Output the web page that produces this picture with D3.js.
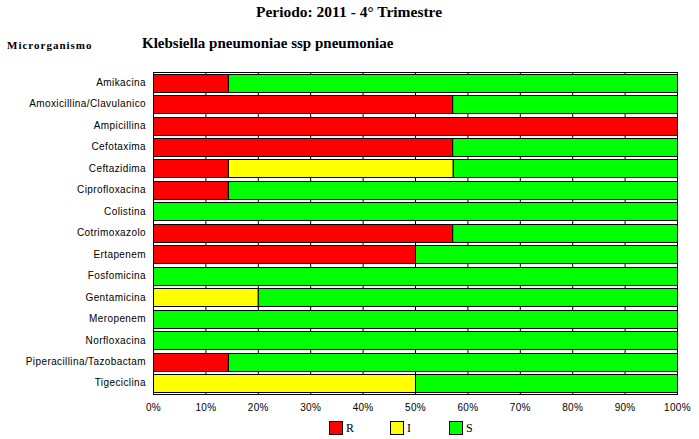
<!DOCTYPE html>
<html lang="es">
<head>
<meta charset="UTF-8">
<title>Klebsiella pneumoniae</title>
<script src="https://cdn.jsdelivr.net/npm/d3@7"></script>
<style>
    body { margin: 0; padding: 0; background: #fff; overflow: hidden; }
    svg { display: block; }
</style>
</head>
<body>
<svg id="chart" width="699" height="439"></svg>
<script>
    // antibiotics, top to bottom
    var antibiotics = ["Amikacina", "Amoxicillina/Clavulanico", "Ampicillina", "Cefotaxima",
        "Ceftazidima", "Ciprofloxacina", "Colistina", "Cotrimoxazolo", "Ertapenem",
        "Fosfomicina", "Gentamicina", "Meropenem", "Norfloxacina",
        "Piperacillina/Tazobactam", "Tigeciclina"];
    // percentages
    var valR = [14.3, 57.1, 100, 57.1, 14.3, 14.3, 0, 57.1, 50, 0, 0, 0, 0, 14.3, 0];
    var valI = [0, 0, 0, 0, 42.9, 0, 0, 0, 0, 0, 20, 0, 0, 0, 50];
    var valS = [85.7, 42.9, 0, 42.9, 42.8, 85.7, 100, 42.9, 50, 100, 80, 100, 100, 85.7, 50];
    var seriesKeys = ["R", "I", "S"];
    var seriesColors = ["#ff0000", "#ffff00", "#00ff00"];
    var xTicks = [0, 10, 20, 30, 40, 50, 60, 70, 80, 90, 100];

    var svg = d3.select("#chart");
    var plotLeft = 153, plotRight = 677, plotTop = 72, plotBottom = 394;

    var rows = antibiotics.map(function (name, i) {
        return { name: name, R: valR[i], I: valI[i], S: valS[i] };
    });

    var x = d3.scaleLinear().domain([0, 100]).range([plotLeft, plotRight]);
    var y = d3.scaleBand().domain(antibiotics).range([plotTop, plotBottom])
        .paddingInner(0.15).paddingOuter(0.075);
    var color = d3.scaleOrdinal().domain(seriesKeys).range(seriesColors);

    // headers
    svg.append("text")
        .attr("x", 349).attr("y", 17)
        .attr("text-anchor", "middle")
        .style("font-family", "'Liberation Serif', 'Times New Roman', serif")
        .style("font-size", "15.5px").style("font-weight", "bold")
        .text("Periodo: 2011 - 4° Trimestre");

    svg.append("text")
        .attr("x", 7).attr("y", 49)
        .style("font-family", "'Liberation Serif', 'Times New Roman', serif")
        .style("font-size", "11px").style("font-weight", "bold")
        .style("letter-spacing", "1px")
        .text("Microrganismo");

    svg.append("text")
        .attr("x", 142).attr("y", 48)
        .style("font-family", "'Liberation Serif', 'Times New Roman', serif")
        .style("font-size", "15px").style("font-weight", "bold")
        .text("Klebsiella pneumoniae ssp pneumoniae");

    // grid lines
    svg.append("g").selectAll("line").data(xTicks).join("line")
        .attr("x1", d => x(d) + 0.5).attr("x2", d => x(d) + 0.5)
        .attr("y1", plotTop).attr("y2", plotBottom)
        .attr("stroke", "#000").attr("stroke-width", 1);
    svg.append("line")
        .attr("x1", plotLeft).attr("x2", plotRight + 1)
        .attr("y1", plotTop + 0.5).attr("y2", plotTop + 0.5)
        .attr("stroke", "#000");
    svg.append("line")
        .attr("x1", plotLeft).attr("x2", plotRight + 1)
        .attr("y1", plotBottom + 0.5).attr("y2", plotBottom + 0.5)
        .attr("stroke", "#000");

    // stacked bars
    var stacked = d3.stack().keys(seriesKeys)(rows);
    svg.append("g").selectAll("g").data(stacked).join("g")
        .attr("fill", d => color(d.key))
        .selectAll("rect").data(d => d.filter(s => s[1] - s[0] > 0)).join("rect")
        .attr("x", d => x(d[0]) + 0.5)
        .attr("width", d => x(d[1]) - x(d[0]))
        .attr("y", d => Math.round(y(d.data.name)) + 0.5)
        .attr("height", Math.round(y.bandwidth()))
        .attr("stroke", "#000").attr("stroke-width", 1);

    // y labels
    var yAxis = svg.append("g")
        .attr("transform", "translate(" + plotLeft + ",0)")
        .call(d3.axisLeft(y).tickSize(0).tickPadding(7));
    yAxis.select(".domain").remove();
    yAxis.selectAll("text")
        .style("font-family", "'Liberation Sans', Arial, sans-serif")
        .style("font-size", "10px").style("letter-spacing", "0.4px")
        .attr("fill", "#000");
    svg.append("line")
        .attr("x1", plotLeft + 0.5).attr("x2", plotLeft + 0.5)
        .attr("y1", plotTop).attr("y2", plotBottom + 1)
        .attr("stroke", "#000");

    // x labels
    var xAxis = svg.append("g")
        .attr("transform", "translate(0," + plotBottom + ")")
        .call(d3.axisBottom(x).tickValues(xTicks).tickSize(0).tickPadding(10)
            .tickFormat(d => d + "%"));
    xAxis.select(".domain").remove();
    xAxis.selectAll("text")
        .style("font-family", "'Liberation Sans', Arial, sans-serif")
        .style("font-size", "10px").style("letter-spacing", "0.3px")
        .attr("fill", "#000");

    // legend
    var legendX = [329, 390, 449];
    var legend = svg.append("g").selectAll("g").data(seriesKeys).join("g")
        .attr("transform", (d, i) => "translate(" + legendX[i] + ",421)");
    legend.append("rect")
        .attr("x", 0.5).attr("y", 0.5).attr("width", 13).attr("height", 13)
        .attr("fill", d => color(d)).attr("stroke", "#000");
    legend.append("text")
        .attr("x", 17).attr("y", 11)
        .style("font-family", "'Liberation Serif', 'Times New Roman', serif")
        .style("font-size", "12px")
        .text(d => d);
</script>
</body>
</html>
